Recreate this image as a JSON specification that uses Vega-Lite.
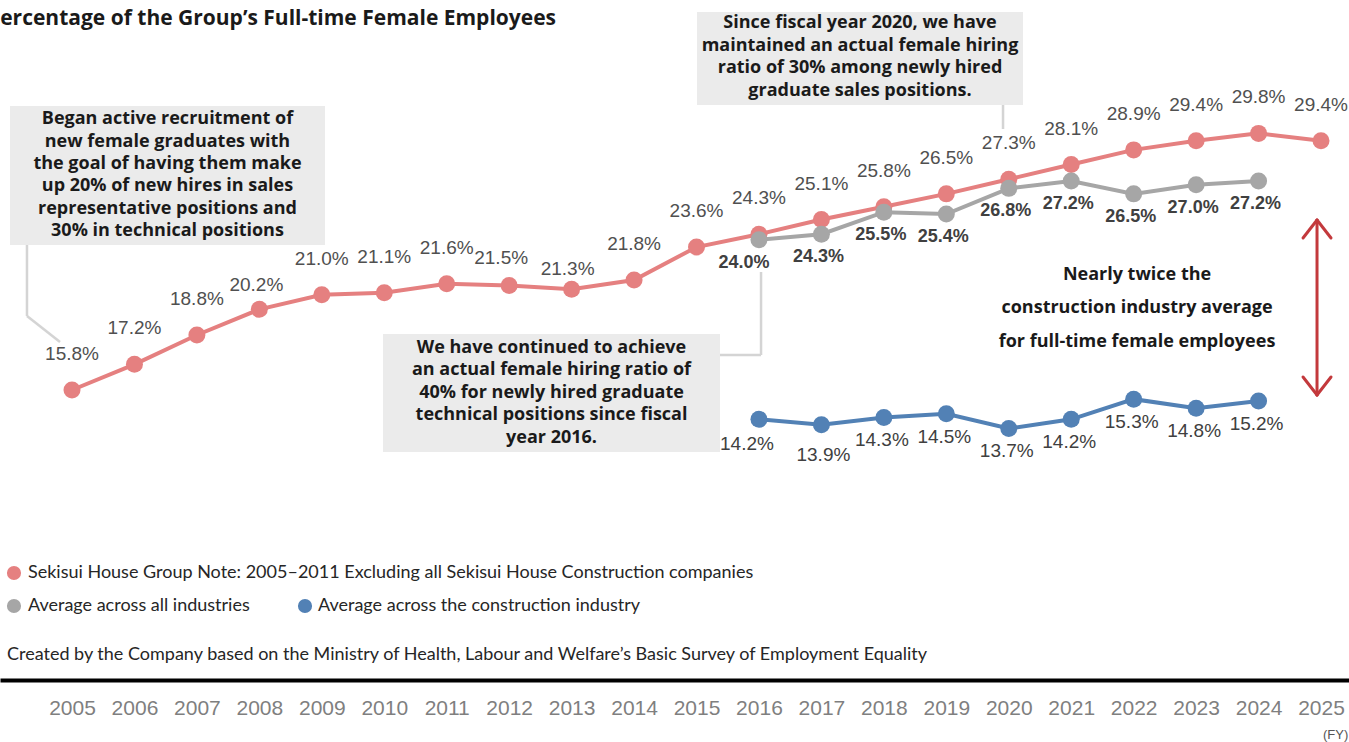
{
 "$schema": "https://vega.github.io/schema/vega-lite/v6.json",
 "width": 1349, "height": 742,
 "autosize": {"type": "none"},
 "padding": 0,
 "background": "white",
 "config": {"view": {"stroke": null}, "font": "Lato", "axis": {"title": null}},
 "datasets": {"series": [
  {"year": 2005, "series": "Sekisui House Group", "value": 15.8},
  {"year": 2006, "series": "Sekisui House Group", "value": 17.2},
  {"year": 2007, "series": "Sekisui House Group", "value": 18.8},
  {"year": 2008, "series": "Sekisui House Group", "value": 20.2},
  {"year": 2009, "series": "Sekisui House Group", "value": 21.0},
  {"year": 2010, "series": "Sekisui House Group", "value": 21.1},
  {"year": 2011, "series": "Sekisui House Group", "value": 21.6},
  {"year": 2012, "series": "Sekisui House Group", "value": 21.5},
  {"year": 2013, "series": "Sekisui House Group", "value": 21.3},
  {"year": 2014, "series": "Sekisui House Group", "value": 21.8},
  {"year": 2015, "series": "Sekisui House Group", "value": 23.6},
  {"year": 2016, "series": "Sekisui House Group", "value": 24.3},
  {"year": 2017, "series": "Sekisui House Group", "value": 25.1},
  {"year": 2018, "series": "Sekisui House Group", "value": 25.8},
  {"year": 2019, "series": "Sekisui House Group", "value": 26.5},
  {"year": 2020, "series": "Sekisui House Group", "value": 27.3},
  {"year": 2021, "series": "Sekisui House Group", "value": 28.1},
  {"year": 2022, "series": "Sekisui House Group", "value": 28.9},
  {"year": 2023, "series": "Sekisui House Group", "value": 29.4},
  {"year": 2024, "series": "Sekisui House Group", "value": 29.8},
  {"year": 2025, "series": "Sekisui House Group", "value": 29.4},
  {"year": 2016, "series": "Average across all industries", "value": 24.0},
  {"year": 2017, "series": "Average across all industries", "value": 24.3},
  {"year": 2018, "series": "Average across all industries", "value": 25.5},
  {"year": 2019, "series": "Average across all industries", "value": 25.4},
  {"year": 2020, "series": "Average across all industries", "value": 26.8},
  {"year": 2021, "series": "Average across all industries", "value": 27.2},
  {"year": 2022, "series": "Average across all industries", "value": 26.5},
  {"year": 2023, "series": "Average across all industries", "value": 27.0},
  {"year": 2024, "series": "Average across all industries", "value": 27.2},
  {"year": 2016, "series": "Average across the construction industry", "value": 14.2},
  {"year": 2017, "series": "Average across the construction industry", "value": 13.9},
  {"year": 2018, "series": "Average across the construction industry", "value": 14.3},
  {"year": 2019, "series": "Average across the construction industry", "value": 14.5},
  {"year": 2020, "series": "Average across the construction industry", "value": 13.7},
  {"year": 2021, "series": "Average across the construction industry", "value": 14.2},
  {"year": 2022, "series": "Average across the construction industry", "value": 15.3},
  {"year": 2023, "series": "Average across the construction industry", "value": 14.8},
  {"year": 2024, "series": "Average across the construction industry", "value": 15.2}
 ],
 "one": [{"k": 1}]},
 "layer": [
  {"data": {"name": "one"}, "mark": {"type": "rect", "color": "#ebebeb"},
   "encoding": {"x": {"datum": 2004.007, "type": "quantitative", "scale": {"domain": [2003.847, 2025.448], "nice": false, "zero": false},
                      "axis": {"values": [2005,2006,2007,2008,2009,2010,2011,2012,2013,2014,2015,2016,2017,2018,2019,2020,2021,2022,2023,2024,2025],
                               "format": "d", "orient": "bottom", "offset": -62, "domainColor": "#000000", "domainWidth": 4,
                               "ticks": false, "grid": false, "labelFontSize": 21, "labelColor": "#7f7f7f", "labelFont": "Liberation Sans",
                               "labelPadding": 17, "title": null, "labelFlush": false, "labelOverlap": false}},
                "x2": {"datum": 2009.051},
                "y": {"datum": 31.294, "type": "quantitative", "scale": {"domain": [-3.404, 37.077], "nice": false, "zero": false}, "axis": null},
                "y2": {"datum": 23.711}}},
  {"data": {"name": "one"}, "mark": {"type": "rect", "color": "#ebebeb"},
   "encoding": {"x": {"datum": 2015.008, "type": "quantitative"}, "x2": {"datum": 2020.228}, "y": {"datum": 36.422, "type": "quantitative"}, "y2": {"datum": 31.349}}},
  {"data": {"name": "one"}, "mark": {"type": "rect", "color": "#ebebeb"},
   "encoding": {"x": {"datum": 2009.980, "type": "quantitative"}, "x2": {"datum": 2015.376}, "y": {"datum": 18.856, "type": "quantitative"}, "y2": {"datum": 12.418}}},
  {"data": {"name": "one"}, "mark": {"type": "rule", "color": "#d4d4d4", "strokeWidth": 2.5},
   "encoding": {"x": {"datum": 2004.279, "type": "quantitative"}, "x2": {"datum": 2004.279}, "y": {"datum": 23.711, "type": "quantitative"}, "y2": {"datum": 19.838}}},
  {"data": {"name": "one"}, "mark": {"type": "rule", "color": "#d4d4d4", "strokeWidth": 2.5},
   "encoding": {"x": {"datum": 2004.279, "type": "quantitative"}, "x2": {"datum": 2004.808}, "y": {"datum": 19.838, "type": "quantitative"}, "y2": {"datum": 18.419}}},
  {"data": {"name": "one"}, "mark": {"type": "rule", "color": "#d4d4d4", "strokeWidth": 2.5},
   "encoding": {"x": {"datum": 2019.908, "type": "quantitative"}, "x2": {"datum": 2019.908}, "y": {"datum": 31.349, "type": "quantitative"}, "y2": {"datum": 30.039}}},
  {"data": {"name": "one"}, "mark": {"type": "rule", "color": "#d4d4d4", "strokeWidth": 2.5},
   "encoding": {"x": {"datum": 2015.376, "type": "quantitative"}, "x2": {"datum": 2016.033}, "y": {"datum": 17.710, "type": "quantitative"}, "y2": {"datum": 17.710}}},
  {"data": {"name": "one"}, "mark": {"type": "rule", "color": "#d4d4d4", "strokeWidth": 2.5},
   "encoding": {"x": {"datum": 2016.033, "type": "quantitative"}, "x2": {"datum": 2016.033}, "y": {"datum": 17.710, "type": "quantitative"}, "y2": {"datum": 22.238}}},

  {"data": {"name": "series"},
   "transform": [{"calculate": "format(datum.value, '.1f') + '%'", "as": "label"}],
   "encoding": {"x": {"field": "year", "type": "quantitative"}, "y": {"field": "value", "type": "quantitative"}, "text": {"field": "label"}},
   "layer": [
    {"transform": [{"filter": "datum.series === 'Sekisui House Group'"}], "mark": {"type": "line", "color": "#e58080", "strokeWidth": 4}},
    {"transform": [{"filter": "datum.series === 'Sekisui House Group'"}], "mark": {"type": "point", "filled": true, "opacity": 1, "color": "#e58080", "size": 289}},
    {"transform": [{"filter": "datum.series === 'Average across all industries'"}], "mark": {"type": "line", "color": "#a6a6a6", "strokeWidth": 4}},
    {"transform": [{"filter": "datum.series === 'Average across all industries'"}], "mark": {"type": "point", "filled": true, "opacity": 1, "color": "#a6a6a6", "size": 289}},
    {"transform": [{"filter": "datum.series === 'Average across the construction industry'"}], "mark": {"type": "line", "color": "#5281b5", "strokeWidth": 4}},
    {"transform": [{"filter": "datum.series === 'Average across the construction industry'"}], "mark": {"type": "point", "filled": true, "opacity": 1, "color": "#5281b5", "size": 289}},
    {"transform": [{"filter": "datum.series === 'Sekisui House Group' && datum.year !== 2008 && datum.year !== 2012 && datum.year !== 2013"}],
     "mark": {"type": "text", "dy": -36, "fontSize": 19, "font": "Liberation Sans", "color": "#505050", "align": "center", "baseline": "middle"}},
    {"transform": [{"filter": "datum.series === 'Sekisui House Group' && datum.year === 2008"}],
     "mark": {"type": "text", "dy": -24, "dx": -3, "fontSize": 19, "font": "Liberation Sans", "color": "#505050", "align": "center", "baseline": "middle"}},
    {"transform": [{"filter": "datum.series === 'Sekisui House Group' && datum.year === 2012"}],
     "mark": {"type": "text", "dy": -28, "dx": -8, "fontSize": 19, "font": "Liberation Sans", "color": "#505050", "align": "center", "baseline": "middle"}},
    {"transform": [{"filter": "datum.series === 'Sekisui House Group' && datum.year === 2013"}],
     "mark": {"type": "text", "dy": -20, "dx": -4, "fontSize": 19, "font": "Liberation Sans", "color": "#505050", "align": "center", "baseline": "middle"}},
    {"transform": [{"filter": "datum.series === 'Average across all industries' && datum.year !== 2016"}],
     "mark": {"type": "text", "dy": 23, "dx": -3, "fontSize": 18, "font": "Liberation Sans", "fontWeight": "bold", "color": "#404040", "align": "center", "baseline": "middle"}},
    {"transform": [{"filter": "datum.series === 'Average across all industries' && datum.year === 2016"}],
     "mark": {"type": "text", "dy": 23, "dx": -15, "fontSize": 18, "font": "Liberation Sans", "fontWeight": "bold", "color": "#404040", "align": "center", "baseline": "middle"}},
    {"transform": [{"filter": "datum.series === 'Average across the construction industry' && datum.year !== 2016 && datum.year !== 2017"}],
     "mark": {"type": "text", "dy": 23, "dx": -2, "fontSize": 19, "font": "Liberation Sans", "color": "#404040", "align": "center", "baseline": "middle"}},
    {"transform": [{"filter": "datum.series === 'Average across the construction industry' && datum.year === 2016"}],
     "mark": {"type": "text", "dy": 25, "dx": -12, "fontSize": 19, "font": "Liberation Sans", "color": "#404040", "align": "center", "baseline": "middle"}},
    {"transform": [{"filter": "datum.series === 'Average across the construction industry' && datum.year === 2017"}],
     "mark": {"type": "text", "dy": 30, "dx": 2, "fontSize": 19, "font": "Liberation Sans", "color": "#404040", "align": "center", "baseline": "middle"}}
   ]},

  {"data": {"name": "one"},
   "mark": {"type": "text", "text": ["Began active recruitment of", "new female graduates with", "the goal of having them make", "up 20% of new hires in sales", "representative positions and", "30% in technical positions"],
            "font": "Open Sans", "fontWeight": "bold", "fontSize": 18, "lineHeight": 22.3, "align": "center", "baseline": "middle", "color": "#1a1a1a"},
   "encoding": {"x": {"datum": 2006.529, "type": "quantitative"}, "y": {"datum": 30.558, "type": "quantitative"}}},
  {"data": {"name": "one"},
   "mark": {"type": "text", "text": ["Since fiscal year 2020, we have", "maintained an actual female hiring", "ratio of 30% among newly hired", "graduate sales positions."],
            "font": "Open Sans", "fontWeight": "bold", "fontSize": 18, "lineHeight": 22.7, "align": "center", "baseline": "middle", "color": "#1a1a1a"},
   "encoding": {"x": {"datum": 2017.618, "type": "quantitative"}, "y": {"datum": 35.822, "type": "quantitative"}}},
  {"data": {"name": "one"},
   "mark": {"type": "text", "text": ["We have continued to achieve", "an actual female hiring ratio of", "40% for newly hired graduate", "technical positions since fiscal", "year 2016."],
            "font": "Open Sans", "fontWeight": "bold", "fontSize": 18, "lineHeight": 22.5, "align": "center", "baseline": "middle", "color": "#1a1a1a"},
   "encoding": {"x": {"datum": 2012.678, "type": "quantitative"}, "y": {"datum": 18.092, "type": "quantitative"}}},
  {"data": {"name": "one"},
   "mark": {"type": "text", "text": ["Nearly twice the", "construction industry average", "for full-time female employees"],
            "font": "Open Sans", "fontWeight": "bold", "fontSize": 18, "lineHeight": 33.5, "align": "center", "baseline": "middle", "color": "#1a1a1a"},
   "encoding": {"x": {"datum": 2022.054, "type": "quantitative"}, "y": {"datum": 22.074, "type": "quantitative"}}},

  {"data": {"name": "one"}, "mark": {"type": "rule", "color": "#c3393c", "strokeWidth": 3, "strokeCap": "round"},
   "encoding": {"x": {"datum": 2024.936, "type": "quantitative"}, "x2": {"datum": 2024.936}, "y": {"datum": 25.075, "type": "quantitative"}, "y2": {"datum": 15.528}}},
  {"data": {"name": "one"}, "mark": {"type": "rule", "color": "#c3393c", "strokeWidth": 3, "strokeCap": "round"},
   "encoding": {"x": {"datum": 2024.712, "type": "quantitative"}, "x2": {"datum": 2024.936}, "y": {"datum": 24.093, "type": "quantitative"}, "y2": {"datum": 25.075}}},
  {"data": {"name": "one"}, "mark": {"type": "rule", "color": "#c3393c", "strokeWidth": 3, "strokeCap": "round"},
   "encoding": {"x": {"datum": 2025.160, "type": "quantitative"}, "x2": {"datum": 2024.936}, "y": {"datum": 24.093, "type": "quantitative"}, "y2": {"datum": 25.075}}},
  {"data": {"name": "one"}, "mark": {"type": "rule", "color": "#c3393c", "strokeWidth": 3, "strokeCap": "round"},
   "encoding": {"x": {"datum": 2024.712, "type": "quantitative"}, "x2": {"datum": 2024.936}, "y": {"datum": 16.510, "type": "quantitative"}, "y2": {"datum": 15.528}}},
  {"data": {"name": "one"}, "mark": {"type": "rule", "color": "#c3393c", "strokeWidth": 3, "strokeCap": "round"},
   "encoding": {"x": {"datum": 2025.160, "type": "quantitative"}, "x2": {"datum": 2024.936}, "y": {"datum": 16.510, "type": "quantitative"}, "y2": {"datum": 15.528}}},

  {"data": {"name": "one"},
   "mark": {"type": "text", "text": "Percentage of the Group\u2019s Full-time Female Employees", "font": "Open Sans", "fontWeight": "bold", "fontSize": 21, "align": "left", "baseline": "middle", "color": "#1a1a1a"},
   "encoding": {"x": {"datum": 2003.639, "type": "quantitative"}, "y": {"datum": 36.040, "type": "quantitative"}}},
  {"data": {"name": "one"}, "mark": {"type": "point", "filled": true, "opacity": 1, "color": "#e58080", "size": 200},
   "encoding": {"x": {"datum": 2004.071, "type": "quantitative"}, "y": {"datum": 5.817, "type": "quantitative"}}},
  {"data": {"name": "one"},
   "mark": {"type": "text", "text": "Sekisui House Group Note: 2005\u20132011 Excluding all Sekisui House Construction companies", "font": "Lato", "fontSize": 18, "align": "left", "baseline": "middle", "color": "#262626"},
   "encoding": {"x": {"datum": 2004.295, "type": "quantitative"}, "y": {"datum": 5.817, "type": "quantitative"}}},
  {"data": {"name": "one"}, "mark": {"type": "point", "filled": true, "opacity": 1, "color": "#a6a6a6", "size": 200},
   "encoding": {"x": {"datum": 2004.071, "type": "quantitative"}, "y": {"datum": 4.017, "type": "quantitative"}}},
  {"data": {"name": "one"},
   "mark": {"type": "text", "text": "Average across all industries", "font": "Lato", "fontSize": 18, "align": "left", "baseline": "middle", "color": "#262626"},
   "encoding": {"x": {"datum": 2004.295, "type": "quantitative"}, "y": {"datum": 4.017, "type": "quantitative"}}},
  {"data": {"name": "one"}, "mark": {"type": "point", "filled": true, "opacity": 1, "color": "#5281b5", "size": 200},
   "encoding": {"x": {"datum": 2008.731, "type": "quantitative"}, "y": {"datum": 4.017, "type": "quantitative"}}},
  {"data": {"name": "one"},
   "mark": {"type": "text", "text": "Average across the construction industry", "font": "Lato", "fontSize": 18, "align": "left", "baseline": "middle", "color": "#262626"},
   "encoding": {"x": {"datum": 2008.939, "type": "quantitative"}, "y": {"datum": 4.017, "type": "quantitative"}}},
  {"data": {"name": "one"},
   "mark": {"type": "text", "text": "Created by the Company based on the Ministry of Health, Labour and Welfare\u2019s Basic Survey of Employment Equality", "font": "Lato", "fontSize": 18, "align": "left", "baseline": "middle", "color": "#262626"},
   "encoding": {"x": {"datum": 2003.959, "type": "quantitative"}, "y": {"datum": 1.344, "type": "quantitative"}}},
  {"data": {"name": "one"},
   "mark": {"type": "text", "text": "(FY)", "font": "Liberation Sans", "fontSize": 13, "align": "left", "baseline": "middle", "color": "#555555"},
   "encoding": {"x": {"datum": 2025.032, "type": "quantitative"}, "y": {"datum": -3.021, "type": "quantitative"}}}
 ]
}
